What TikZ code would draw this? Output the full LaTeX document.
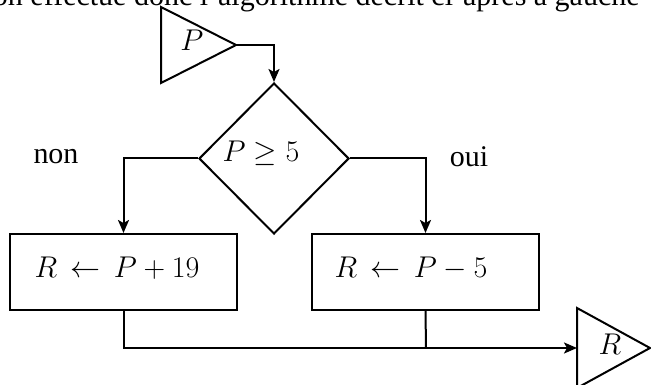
\RequirePackage{fix-cm}
\documentclass[tikz,border=0pt]{standalone}
\usepackage{fontspec}
\setmainfont{Liberation Serif}
\usetikzlibrary{arrows.meta,shapes.geometric}
\newcommand{\myassign}{\mathrel{\,\leftarrow\,}}
\begin{document}
\begin{tikzpicture}[x=1pt,y=-1pt,
  line width=2pt,
  conn/.style={line width=2pt,-{Stealth[length=13pt,width=11pt,inset=3pt]}},
  plain/.style={line width=2pt},
  box/.style={draw,rectangle,minimum width=227pt,minimum height=76pt,inner sep=0pt,line width=2pt},
  dia/.style={draw,diamond,minimum width=150pt,minimum height=151pt,inner sep=0pt,line width=2pt},
  mtxt/.style={inner sep=0pt,font=\fontsize{30}{36}\selectfont},
  ttxt/.style={inner sep=0pt,font=\fontsize{30}{36}\selectfont},
]
\useasboundingbox (0,0) rectangle (651,385);
\clip (0,0) rectangle (651,385);
% top text (cut by the frame)
\node[ttxt,anchor=base west] (toptext) at (-8,6) {on effectue donc l'algorithme décrit ci-après à gauche};
% input triangle
\coordinate (pa) at (161,7);
\coordinate (ptip) at (236,45);
\coordinate (pb) at (161,83);
\draw[plain,line join=miter] (pa) -- (ptip) -- (pb) -- cycle;
\node[mtxt] (plab) at (192,40) {$P$};
% decision
\node[dia] (test) at (274,158.5) {};
\node[mtxt] (testlab) at (261,153) {$P \geq 5$};
% boxes
\node[box] (b1) at (123.5,272) {};
\node[box] (b2) at (425.5,272) {};
\node[mtxt] (b1lab) at (117,268) {$R \myassign P + 19$};
\node[mtxt] (b2lab) at (411,268) {$R \myassign P - 5$};
% labels
\node[ttxt] (non) at (56,157) {non};
\node[ttxt] (oui) at (469,157) {oui};
% output triangle
\coordinate (ra) at (577,308);
\coordinate (rtip) at (650,348);
\coordinate (rb) at (577,388);
\coordinate (rin) at (577,348);
\draw[plain,line join=miter] (ra) -- (rtip) -- (rb) -- cycle;
\node[mtxt] (rlab) at (610,344) {$R$};
% connectors
\draw[conn] (ptip) -| (test.north);
\draw[conn] (test.west) -| (b1.north);
\draw[conn] (test.east) -| (b2.north);
\coordinate (j) at (426,348);
\draw[conn] (b1.south) |- (rin);
\draw[plain] (b2.south) -- (j);
\end{tikzpicture}
\end{document}
